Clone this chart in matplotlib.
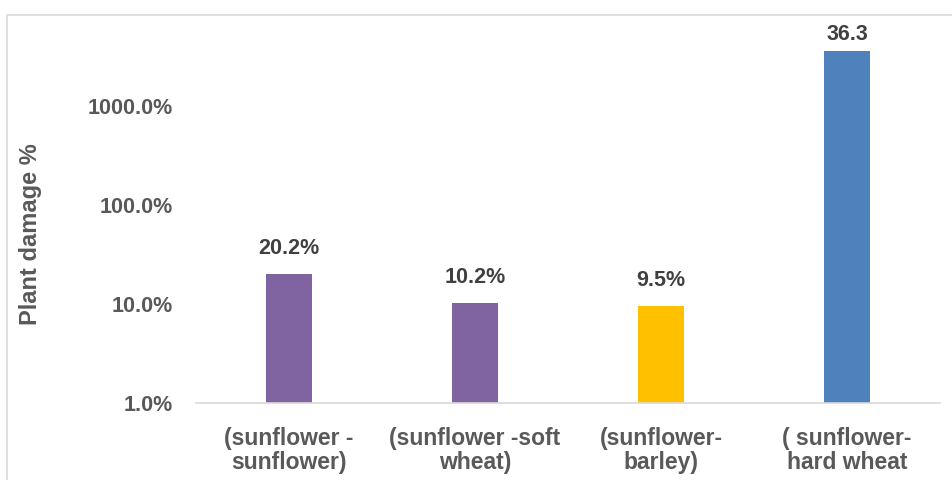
import matplotlib.pyplot as plt
from matplotlib.patches import Rectangle
from matplotlib.ticker import FixedLocator, FixedFormatter

categories = ["(sunflower -\nsunflower)", "(sunflower -soft\nwheat)",
              "(sunflower-\nbarley)", "( sunflower-\nhard wheat"]
damage = [20.2, 10.2, 9.5, 3630.0]
value_labels = ["20.2%", "10.2%", "9.5%", "36.3"]
bar_colors = ["#8064A2", "#8064A2", "#FFC000", "#4F81BD"]
y_ticks = [1, 10, 100, 1000]
y_tick_labels = ["1.0%", "10.0%", "100.0%", "1000.0%"]

plt.rcParams['font.family'] = ['Liberation Sans', 'DejaVu Sans']

fig = plt.figure(figsize=(9.52, 4.8), dpi=100)
ax = fig.add_axes([196 / 952, 1 - 403 / 480, 744 / 952, 383 / 480])

x = list(range(len(categories)))
ax.bar(x, damage, width=0.25, color=bar_colors, zorder=2)
ax.set_yscale('log')
ax.set_ylim(1, 10 ** 3.87)
ax.set_xlim(-0.5, len(categories) - 0.5)

ax.yaxis.set_major_locator(FixedLocator(y_ticks))
ax.yaxis.set_major_formatter(FixedFormatter(y_tick_labels))
ax.yaxis.set_minor_locator(FixedLocator([]))
ax.set_xticks(x)
ax.set_xticklabels(categories, fontsize=16.5, fontweight='bold', color='#595959',
                   linespacing=1.05)
for lab in ax.get_yticklabels():
    lab.set_fontsize(15.5)
    lab.set_fontweight('bold')
    lab.set_color('#595959')
ax.tick_params(axis='both', length=0)
ax.tick_params(axis='y', pad=17)
ax.tick_params(axis='x', pad=17)

for s in ['top', 'right', 'left']:
    ax.spines[s].set_visible(False)
ax.spines['bottom'].set_color('#D9D9D9')
ax.spines['bottom'].set_linewidth(1.2)

for i, (v, t) in enumerate(zip(damage, value_labels)):
    off = 4 if v > 1000 else 11
    ax.annotate(t, (i, v), xytext=(0, off), textcoords='offset points',
                ha='center', va='bottom', fontsize=15.5, fontweight='bold',
                color='#404040')

fig.text(31 / 952, 1 - 234 / 480, "Plant damage %", rotation=90,
         ha='center', va='center', fontsize=17, fontweight='bold',
         color='#595959')

fig.patches.append(Rectangle((7 / 952, -0.1), 1.1, 1 - 15 / 480 + 0.1,
                             transform=fig.transFigure, fill=False,
                             edgecolor='#D9D9D9', linewidth=1.2))

fig.savefig("out.png", dpi=100)
